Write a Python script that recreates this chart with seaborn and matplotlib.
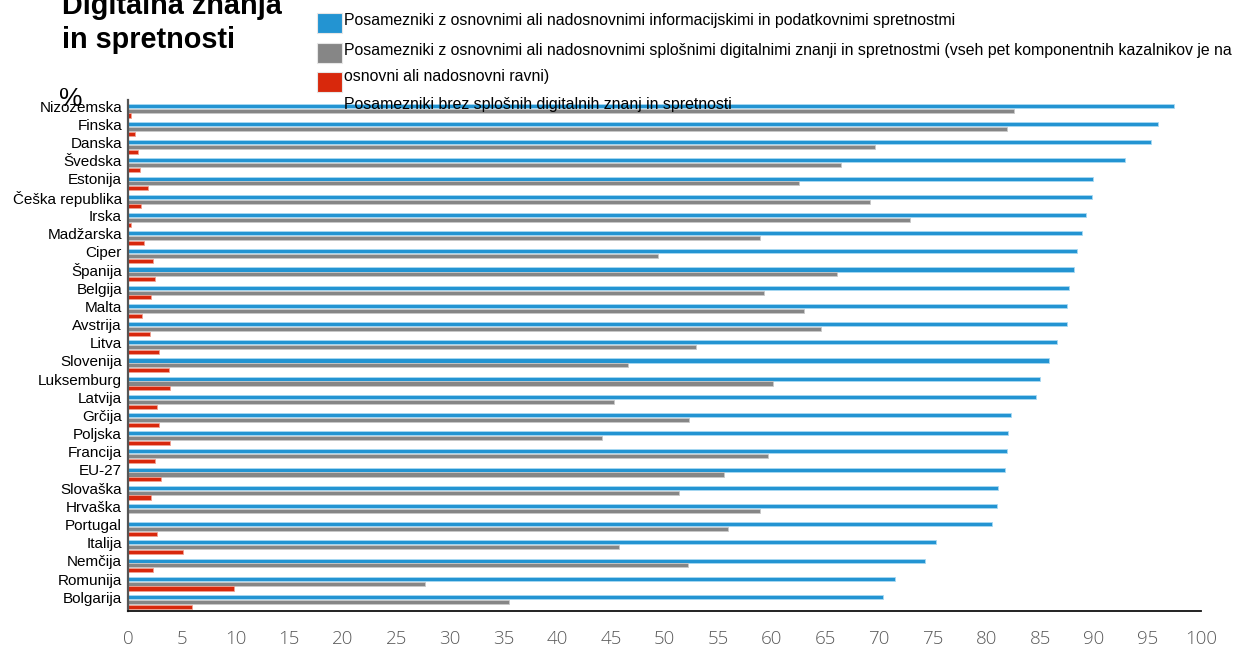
import matplotlib
matplotlib.use("Agg")
import matplotlib.pyplot as plt
import matplotlib.transforms as mtransforms
from matplotlib.patches import Rectangle
import seaborn as sns
import pandas as pd

# ---- data -------------------------------------------------------------
countries = [
    "Nizozemska", "Finska", "Danska", "Švedska", "Estonija", "Češka republika",
    "Irska", "Madžarska", "Ciper", "Španija", "Belgija", "Malta", "Avstrija",
    "Litva", "Slovenija", "Luksemburg", "Latvija", "Grčija", "Poljska",
    "Francija", "EU-27", "Slovaška", "Hrvaška", "Portugal", "Italija",
    "Nemčija", "Romunija", "Bolgarija",
]
info_data_skills = [
    97.5, 96.0, 95.3, 92.9, 89.9, 89.8, 89.3, 88.9, 88.4, 88.2, 87.7, 87.5,
    87.5, 86.6, 85.8, 85.0, 84.6, 82.3, 82.0, 81.9, 81.7, 81.1, 81.0, 80.5,
    75.3, 74.3, 71.5, 70.4,
]
basic_digital_skills = [
    82.6, 81.9, 69.6, 66.4, 62.5, 69.1, 72.9, 58.9, 49.4, 66.1, 59.3, 63.0,
    64.6, 52.9, 46.6, 60.1, 45.3, 52.3, 44.2, 59.6, 55.5, 51.3, 58.9, 55.9,
    45.7, 52.2, 27.7, 35.5,
]
no_digital_skills = [
    0.25, 0.6, 0.9, 1.05, 1.85, 1.15, 0.25, 1.5, 2.3, 2.5, 2.1, 1.3, 2.05,
    2.85, 3.75, 3.9, 2.65, 2.85, 3.85, 2.5, 3.05, 2.1, 0.0, 2.65, 5.1, 2.3,
    9.9, 5.9,
]
series_labels = [
    "Posamezniki z osnovnimi ali nadosnovnimi informacijskimi in podatkovnimi spretnostmi",
    "Posamezniki z osnovnimi ali nadosnovnimi splošnimi digitalnimi znanji in spretnostmi "
    "(vseh pet komponentnih kazalnikov je na osnovni ali nadosnovni ravni)",
    "Posamezniki brez splošnih digitalnih znanj in spretnosti",
]
series_colors = ["#2394d2", "#868686", "#d8280c"]
x_ticks = list(range(0, 101, 5))
title_lines = ["Digitalna znanja", "in spretnosti"]
unit_label = "%"

# ---- long-form table --------------------------------------------------
df = pd.DataFrame({
    "country": countries * 3,
    "value": info_data_skills + basic_digital_skills + no_digital_skills,
    "series": [series_labels[0]] * len(countries)
    + [series_labels[1]] * len(countries)
    + [series_labels[2]] * len(countries),
})

sns.set_style("white")
plt.rcParams["font.family"] = ["Liberation Sans", "DejaVu Sans"]
plt.rcParams["text.color"] = "black"

W, H = 1240, 648
fig = plt.figure(figsize=(W / 100, H / 100), dpi=100)
ax = fig.add_axes([128.3 / W, (H - 611.1) / H, (1201 - 128.3) / W, (611.1 - 100.1) / H])

sns.barplot(
    data=df, y="country", x="value", hue="series",
    hue_order=series_labels, palette=series_colors,
    orient="h", width=0.8, gap=0.16, legend=False, ax=ax,
    saturation=1,
)

# soft light edges around the bars
edge_cols = ["#a9d9f2", "#c9c9c9", "#f0a090"]
for cont, ec in zip(ax.containers, edge_cols):
    for bar in cont:
        bar.set_edgecolor(ec)
        bar.set_linewidth(0.6)

ax.set_xlim(0, 100)
ax.set_ylim(27.51, -0.58)
ax.set_xticks(x_ticks)
ax.set_xticklabels([str(t) for t in x_ticks])
ax.set_xlabel("")
ax.set_ylabel("")

for s in ("top", "right"):
    ax.spines[s].set_visible(False)
ax.spines["bottom"].set_color("#111111")
ax.spines["bottom"].set_linewidth(1.3)
ax.spines["left"].set_color("#555555")
ax.spines["left"].set_linewidth(1.6)

ax.tick_params(axis="x", length=4.5, width=1.0, color="#333333", pad=9,
               labelsize=13.5, labelcolor="#5a5a5a")
for lab in ax.get_xticklabels():
    lab.set_family(["Open Sans", "DejaVu Sans"])
    lab.set_fontweight("light")
ax.tick_params(axis="y", length=0, pad=4.5, labelsize=11, labelcolor="black")

# lift category labels a little toward the top bar of each group
lift = mtransforms.ScaledTranslation(0, 0.045, fig.dpi_scale_trans)
for lab in ax.get_yticklabels():
    lab.set_transform(lab.get_transform() + lift)

# ---- title and unit ---------------------------------------------------
fig.text(62 / W, (H - 14) / H, title_lines[0], fontsize=20.8, fontweight="bold",
         ha="left", va="baseline", color="black")
fig.text(62 / W, (H - 48) / H, title_lines[1], fontsize=20.8, fontweight="bold",
         ha="left", va="baseline", color="black")
fig.text(59 / W, (H - 106) / H, unit_label, fontsize=19, ha="left", va="baseline",
         color="black")

# ---- legend block -----------------------------------------------------
split_key = "je na "
cut = series_labels[1].index(split_key) + len(split_key)
legend_lines = [
    series_labels[0],
    series_labels[1][:cut].rstrip(),
    series_labels[1][cut:],
    series_labels[2],
]
patch_tops = [13, 43, 72]
for top, col in zip(patch_tops, series_colors):
    fig.add_artist(Rectangle((317 / W, (H - top - 20) / H), 25 / W, 20 / H,
                             transform=fig.transFigure, facecolor=col,
                             edgecolor="#e6e6e6", linewidth=0.8))
for yc, txt in zip([21, 50, 77, 104], legend_lines):
    fig.text(344 / W, (H - yc) / H, txt, fontsize=11.4, ha="left", va="center",
             color="black")

fig.savefig("out.png", dpi=100)
